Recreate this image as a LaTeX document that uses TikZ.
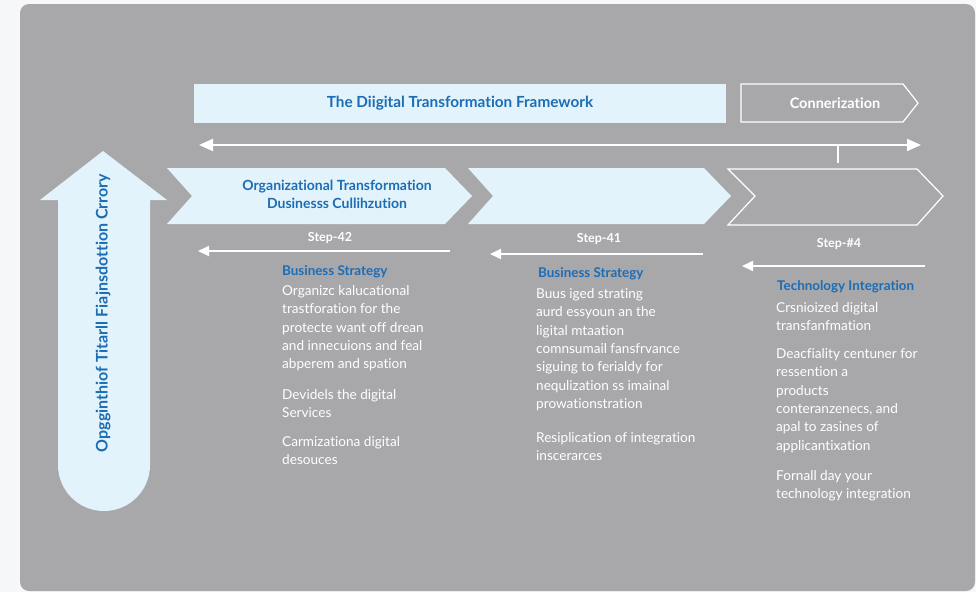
\documentclass[tikz,border=0pt]{standalone}
\usepackage{fontspec}
\setmainfont{Lato}[Ligatures=NoCommon]
\usetikzlibrary{arrows.meta,positioning}
\definecolor{panelgray}{HTML}{A8A8AB}
\definecolor{paleblue}{HTML}{E3F3FB}
\definecolor{inkblue}{HTML}{1B6DB6}
\definecolor{pagebg}{HTML}{F6F7F9}

\begin{document}
\begin{tikzpicture}[x=1pt,y=-1pt,
    body/.style={anchor=north west,inner sep=0pt,align=left,text=white,font=\fontsize{13.6}{18.3}\selectfont},
    head/.style={anchor=west,inner sep=0pt,text=inkblue,font=\bfseries\fontsize{13.4}{15}\selectfont},
    steplabel/.style={inner sep=0pt,text=white,font=\bfseries\fontsize{12.5}{14}\selectfont},
    backarrow/.style={draw=white,line width=1.8pt,-{Triangle[length=11pt,width=10pt]}}]
\useasboundingbox (0,0) rectangle (976,592);
\fill[pagebg] (0,0) rectangle (976,592);
\fill[panelgray,rounded corners=9pt] (20,4) rectangle (975,591);

% header row
\node[fill=paleblue,minimum width=532pt,minimum height=39pt,inner sep=0pt,text=inkblue,font=\bfseries\fontsize{15.3}{18}\selectfont] (frame) at (460,103.5) {The Diigital Transformation Framework};
\draw[white,line width=1.2pt] (741,84)--(903,84)--(918,103)--(903,122)--(741,122)--cycle;
\node[text=white,font=\bfseries\fontsize{14.5}{17}\selectfont] (conn) at (835,103) {Connerization};
\coordinate (span-l) at (199,145);
\coordinate (span-r) at (921,145);
\coordinate (tick-top) at (838,145);
\coordinate (tick) at (838,163);
\draw[white,line width=2pt,{Triangle[length=14pt,width=12pt]}-{Triangle[length=14pt,width=12pt]}] (span-l)--(span-r);
\draw[white,line width=1.5pt] (tick-top)--(tick);

% vertical arrow
\fill[paleblue] (150,200)--(167,200)--(103,151)--(40,200)--(58,200)--(58,465) arc[start angle=180,end angle=0,radius=46]--cycle;
\node[rotate=90,text=inkblue,font=\bfseries\fontsize{16}{18}\selectfont] (vision) at (103,313) {Opgginthiof Titarll Fiajnsdottion Crrory};

% chevrons
\fill[paleblue] (167,168)--(445,168)--(472,196)--(445,224)--(167,224)--(192,196)--cycle;
\fill[paleblue] (468,168)--(704,168)--(731,196)--(704,224)--(468,224)--(493,196)--cycle;
\draw[white,line width=1.2pt] (728,169)--(917,169)--(943,196)--(917,225)--(728,225)--(755,196)--cycle;
\node[text=inkblue,align=center,font=\bfseries\fontsize{14}{17.5}\selectfont] (org) at (337,194.5) {Organizational Transformation\\Dusinesss Cullihzution};

% steps
\node[steplabel] (s42) at (330,238) {Step-42};
\node[steplabel] (s41) at (599,239) {Step-41};
\node[steplabel] (s4) at (839,244) {Step-\#4};
\coordinate (a42-r) at (450,251); \coordinate (a42-l) at (198,251);
\coordinate (a41-r) at (703,254); \coordinate (a41-l) at (490,254);
\coordinate (a4-r) at (925,266); \coordinate (a4-l) at (742,266);
\draw[backarrow] (a42-r)--(a42-l);
\draw[backarrow] (a41-r)--(a41-l);
\draw[backarrow] (a4-r)--(a4-l);

% column 1
\node[head] (strat1) at (282,272) {Business Strategy};
\node[body] (c1a) at (282,282.5) {\strut Organizc kalucational\\trastforation for the\\protecte want off drean\\and innecuions and feal\\abperem and spation};
\node[body] (c1b) at (282,386.5) {\strut Devidels the digital\\Services};
\node[body] (c1c) at (282,433.5) {\strut Carmizationa digital\\desouces};

% column 2
\node[head] (strat2) at (538,274) {Business Strategy};
\node[body] (c2a) at (536,285.5) {\strut Buus iged strating\\aurd essyoun an the\\ligital mtaation\\comnsumail fansfrvance\\siguing to ferialdy for\\nequlization ss imainal\\prowationstration};
\node[body] (c2b) at (536,429.5) {\strut Resiplication of integration\\inscerarces};

% column 3
\node[head] (tech) at (777,287) {Technology Integration};
\node[body] (c3a) at (776,299.5) {\strut Crsnioized digital\\transfanfmation};
\node[body] (c3b) at (776,345.5) {\strut Deacfiality centuner for\\ressention a\\products\\conteranzenecs, and\\apal to zasines of\\applicantixation};
\node[body] (c3c) at (776,467.5) {\strut Fornall day your\\technology integration};
\end{tikzpicture}
\end{document}
